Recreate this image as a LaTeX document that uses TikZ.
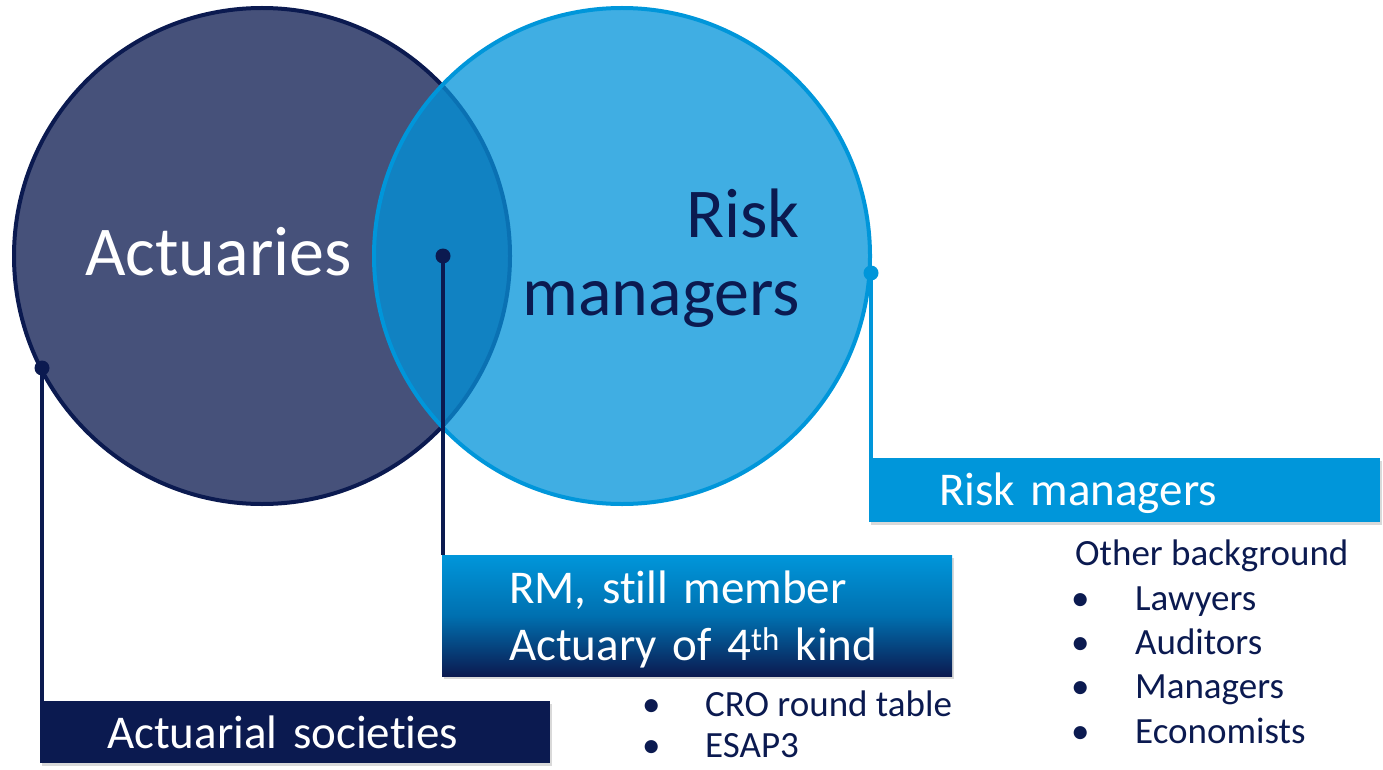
\documentclass[tikz,border=0pt]{standalone}
\usepackage{fontspec}
\setmainfont{Carlito}[Ligatures=NoCommon]
\usepackage{tikz}
\usetikzlibrary{shadows}
\definecolor{navy}{HTML}{0B1A50}
\definecolor{actfill}{HTML}{46517A}
\definecolor{rmfill}{HTML}{40AEE3}
\definecolor{rmline}{HTML}{0096DA}
\definecolor{lensfill}{HTML}{1182C2}
\definecolor{lensline}{HTML}{0A71B3}
\definecolor{gradmid}{HTML}{0070B0}
\tikzset{venn/.style={circle,minimum size=496pt,inner sep=0pt,line width=4pt},
    leaddot/.style={circle,fill,inner sep=0pt,minimum size=15pt},
    leadline/.style={line width=4pt},
    labelbox/.style={rectangle,inner ysep=0pt,align=left,text=white,font=\fontsize{47}{57}\selectfont,
        drop shadow={shadow xshift=2pt,shadow yshift=-3pt,opacity=0.3}},
    bigtxt/.style={inner sep=0pt,font=\fontsize{70}{78}\selectfont},
    listtxt/.style={inner sep=0pt,anchor=base west,text=navy,font=\fontsize{37}{44}\selectfont}}

\begin{document}
\begin{tikzpicture}[x=1pt,y=-1pt]
    \useasboundingbox (0,0) rectangle (1383,770);

    % the two sets
    \node[venn,fill=actfill,draw=navy] (act) at (262,256) {};
    \node[venn,fill=rmfill] (rm) at (622,256) {};
    \begin{scope}
        \clip (act.center) circle (248pt);
        \fill[lensfill] (rm.center) circle (248pt);
    \end{scope}
    \begin{scope}
        \clip (rm.center) circle (250pt);
        \draw[lensline,line width=4pt] (act.center) circle (248pt);
    \end{scope}
    \draw[rmline,line width=4pt] (rm.center) circle (248pt);

    \node[bigtxt,text=white,anchor=base west] (actlbl) at (85,275) {Actuaries};
    \node[bigtxt,text=navy,anchor=base east] (risk) at (800,237) {Risk};
    \node[bigtxt,text=navy,anchor=base east] (mgrs) at (800,315) {managers};

    % call-outs
    \node[leaddot,navy] (actdot) at (42,368) {};
    \node[leaddot,navy] (lensdot) at (443,256) {};
    \node[leaddot,rmline] (rmdot) at (871,273) {};

    \node[labelbox,fill=navy,inner xsep=67pt,text width=376pt,minimum height=62pt,
        text height=32pt,text depth=0pt] (soc) at (295,732) {Actuarial societies};
    \node[labelbox,top color=rmline,bottom color=navy,middle color=gradmid,inner xsep=67pt,
        text width=376pt,minimum height=121pt,text height=40pt,text depth=65pt] (both) at (697,615.5)
        {RM, still member\\Actuary of 4\textsuperscript{th} kind};
    \node[labelbox,fill=rmline,inner xsep=70pt,text width=371pt,minimum height=64pt,
        text height=38pt,text depth=8pt] (rmbox) at (1124.5,490) {Risk managers};

    \draw[leadline,navy] (actdot.center) -- (actdot.center |- soc.north);
    \draw[leadline,navy] (lensdot.center) -- (lensdot.center |- both.north);
    \draw[leadline,rmline] (rmdot.center) -- (rmdot.center |- rmbox.north);

    % lists under the boxes
    \node[listtxt] (cro) at (642,716) {\makebox[63pt][l]{•}CRO round table};
    \node[listtxt] (esap) at (642,757) {\makebox[63pt][l]{•}ESAP3};
    \node[listtxt] (other) at (1075,565) {Other background};
    \node[listtxt] (law) at (1071,610) {\makebox[64pt][l]{•}Lawyers};
    \node[listtxt] (aud) at (1071,654) {\makebox[64pt][l]{•}Auditors};
    \node[listtxt] (man) at (1071,698) {\makebox[64pt][l]{•}Managers};
    \node[listtxt] (eco) at (1071,743) {\makebox[64pt][l]{•}Economists};
\end{tikzpicture}
\end{document}
